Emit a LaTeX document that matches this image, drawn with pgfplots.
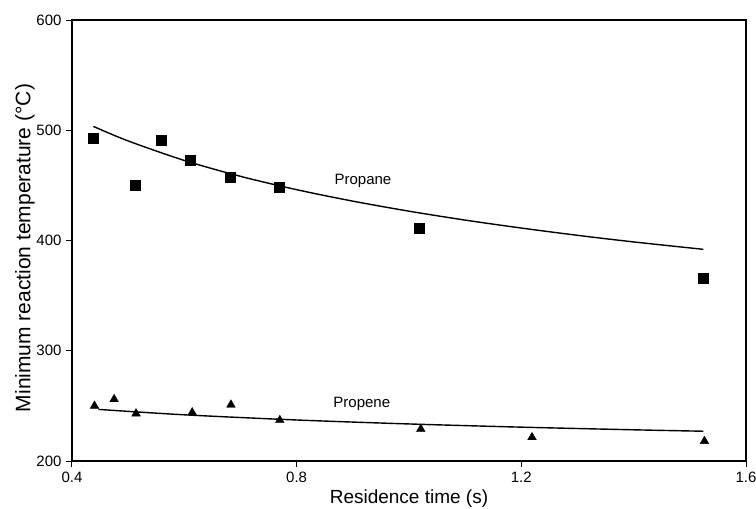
\documentclass[border=0pt]{standalone}
\usepackage{pgfplots}
\pgfplotsset{compat=1.18}
\usepackage{fontspec}
\setmainfont{Liberation Sans}
\begin{document}
\begin{tikzpicture}[x=1pt,y=1pt]
\useasboundingbox (-72,-48) rectangle (684,461);
\begin{axis}[
  at={(0,0)}, anchor=origin,
  scale only axis, width=674pt, height=441pt,
  xmin=0.4, xmax=1.6, ymin=200, ymax=600,
  xtick={0.4,0.8,1.2,1.6}, ytick={200,300,400,500,600},
  xticklabels={0.4,0.8,1.2,1.6},
  xtick pos=left, ytick pos=left, tick align=outside,
  major tick length=6pt,
  axis line style={line width=1.1pt},
  tick style={line width=1pt, black},
  /pgf/number format/assume math mode=true,
  ticklabel style={font=\fontsize{15}{17}\selectfont},
  xticklabel style={yshift=-1pt},
  yticklabel style={xshift=-1pt},
  xlabel={Residence time (s)},
  ylabel={Minimum reaction temperature (°C)},
  xlabel style={font=\fontsize{19}{22}\selectfont, at={(axis description cs:0.5,0)}, anchor=center, yshift=-38pt},
  ylabel style={font=\fontsize{21}{24}\selectfont, at={(axis description cs:-0.0697,0.483)}, anchor=center},
  clip=false,
]
% Propane data
\addplot[only marks, mark=square*, mark size=5pt, black] coordinates {
  (0.437,493) (0.513,450) (0.559,491) (0.611,473) (0.681,457) (0.769,448) (1.018,411) (1.524,366)
};
% Propene data
\addplot[only marks, mark=triangle*, mark size=5pt, black] coordinates {
  (0.440,250) (0.475,256) (0.514,243) (0.614,244) (0.683,251) (0.770,237) (1.021,229) (1.219,221.5) (1.526,218)
};
% Propane fit curve
\addplot[black, line width=1.4pt, smooth] coordinates {
  (0.438,503.5) (0.5,490.3) (0.6,472.6) (0.7,458.2) (0.8,446.1) (0.9,435.7) (1.0,426.6)
  (1.1,418.5) (1.2,411.3) (1.3,404.7) (1.4,398.7) (1.524,392.0)
};
% Propene fit curve
\addplot[black, line width=1.4pt, smooth] coordinates {
  (0.447,246.8) (0.6,241.9) (0.8,237.2) (1.0,233.6) (1.2,230.7) (1.4,228.3) (1.524,227.0)
};
\node[font=\fontsize{15}{17}\selectfont] at (axis cs:0.918,454) {Propane};
\node[font=\fontsize{15}{17}\selectfont] at (axis cs:0.916,252) {Propene};
\end{axis}
\end{tikzpicture}
\end{document}
